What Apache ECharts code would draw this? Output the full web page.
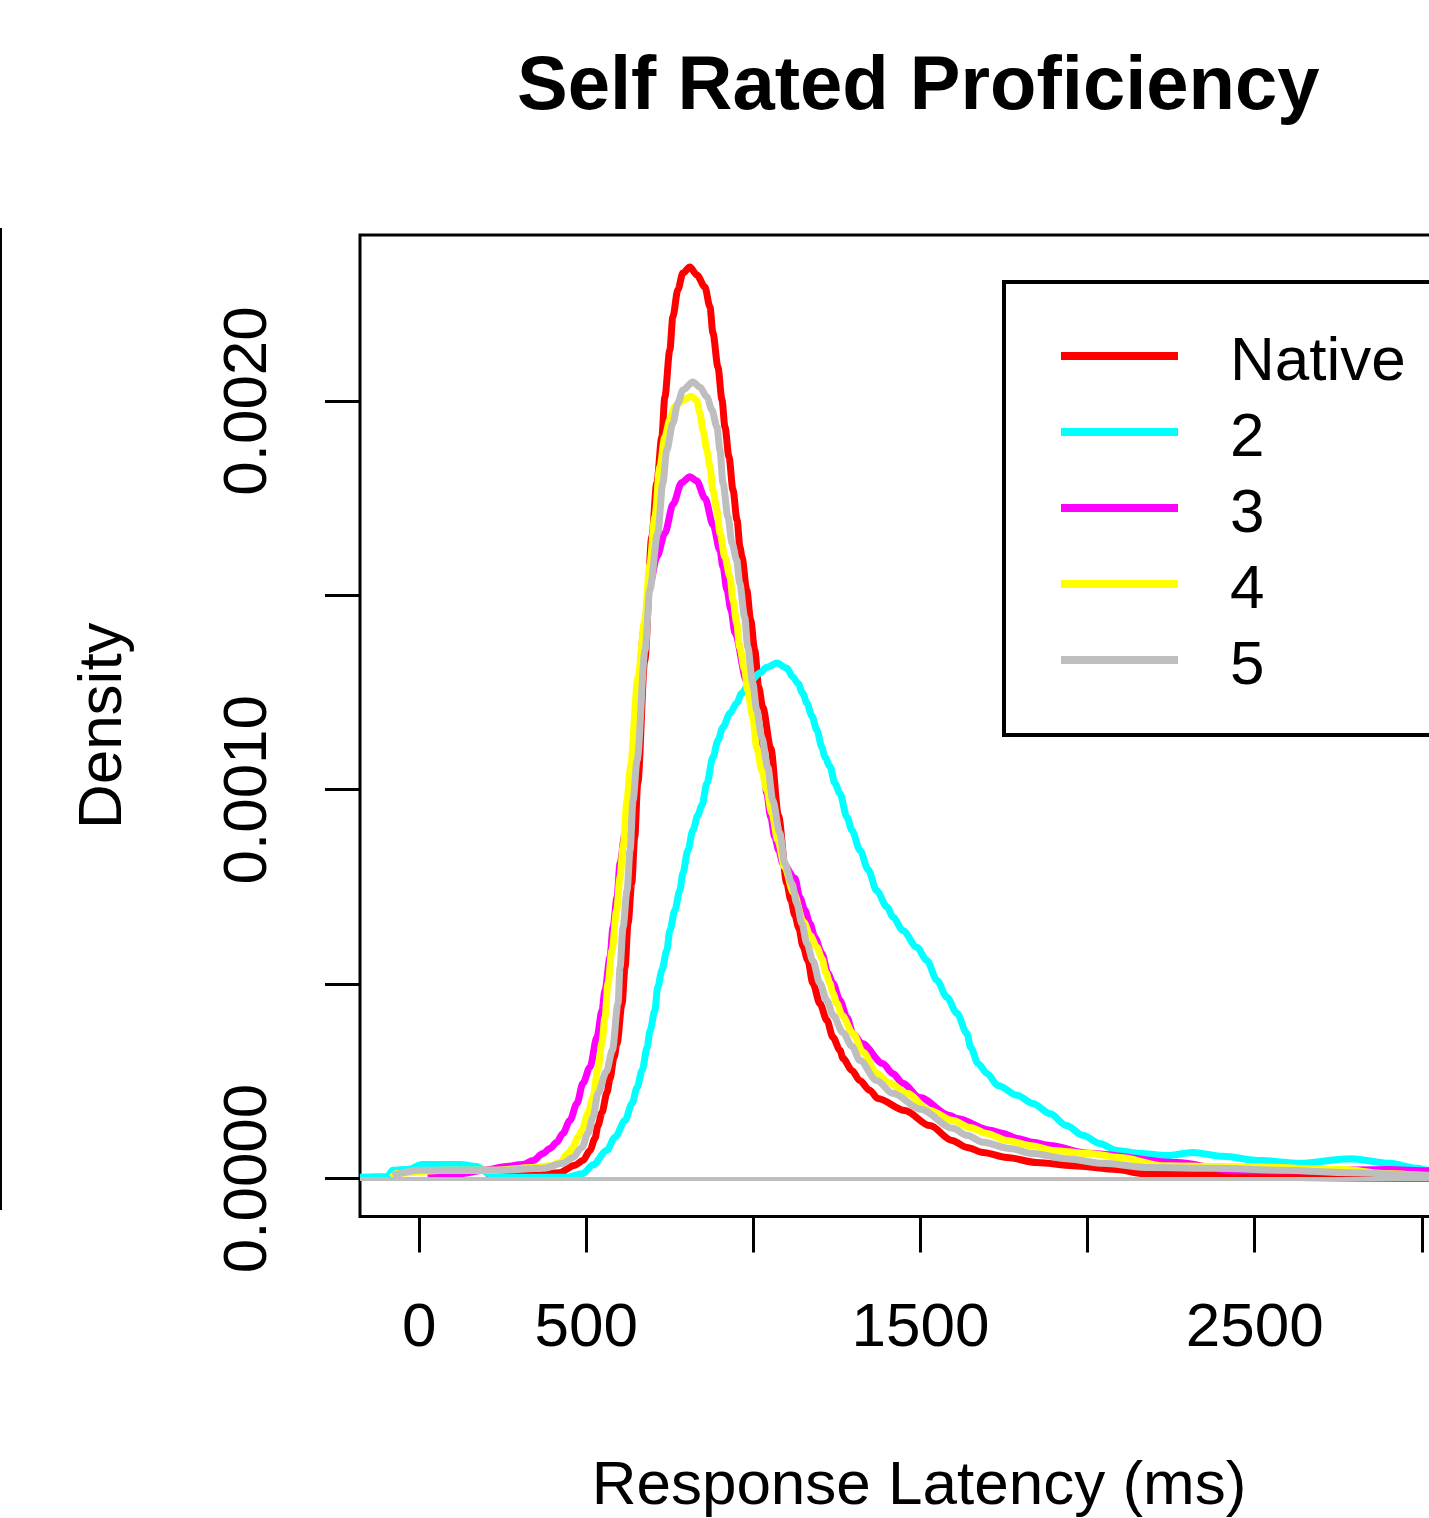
<!DOCTYPE html>
<html>
<head>
<meta charset="utf-8">
<title>Self Rated Proficiency</title>
<script src="https://cdn.jsdelivr.net/npm/echarts@6.0.0/dist/echarts.min.js"></script>
<style>
  html, body { margin: 0; padding: 0; background: #fff; }
  #density_chart { width: 1429px; height: 1518px; }
</style>
</head>
<body>
<div id="density_chart"></div>
<script>
// density curves: [latency in ms, density]
var nativeDens = [
  [200, 0.000003], [350, 0.000008], [420, 0.000015], [466, 0.000034], [490, 0.000046],
  [511, 0.000072], [526, 0.000103], [535, 0.000136], [547, 0.000170], [562, 0.000221],
  [571, 0.000257], [583, 0.000311], [592, 0.000347], [607, 0.000450], [616, 0.000543],
  [625, 0.000656], [636, 0.000759], [645, 0.000878], [654, 0.001017], [675, 0.001333],
  [696, 0.001650], [711, 0.001789], [726, 0.001907], [735, 0.002010], [750, 0.002131],
  [759, 0.002216], [774, 0.002286], [789, 0.002329], [810, 0.002345], [831, 0.002324],
  [855, 0.002293], [870, 0.002242], [879, 0.002175], [894, 0.002087], [906, 0.002003],
  [915, 0.001933], [927, 0.001856], [939, 0.001771], [951, 0.001694], [960, 0.001624],
  [966, 0.001598], [980, 0.001514], [992, 0.001436], [1004, 0.001359], [1016, 0.001264],
  [1028, 0.001212], [1052, 0.001107], [1075, 0.000934], [1100, 0.000759], [1112, 0.000716],
  [1124, 0.000677], [1136, 0.000644], [1148, 0.000598], [1163, 0.000561], [1178, 0.000502],
  [1199, 0.000450], [1220, 0.000407], [1238, 0.000363], [1259, 0.000330], [1268, 0.000309],
  [1295, 0.000278], [1318, 0.000252], [1348, 0.000227], [1372, 0.000206], [1453, 0.000175],
  [1528, 0.000136], [1594, 0.000098], [1639, 0.000080], [1687, 0.000067], [1758, 0.000054],
  [1848, 0.000041], [1956, 0.000033], [2087, 0.000023], [2165, 0.000013], [2267, 0.000010],
  [2387, 0.000010], [2465, 0.000004], [2800, 0.000001], [3100, 0]
];
var dens2 = [
  [-177, 0.000003], [-95, 0.000005], [-79, 0.000021], [-30, 0.000024], [8, 0.000036],
  [122, 0.000036], [172, 0.000031], [210, 0.000012], [241, 0.000003], [442, 0.000003],
  [490, 0.000013], [520, 0.000035], [561, 0.000072], [586, 0.000106], [616, 0.000149],
  [637, 0.000193], [652, 0.000234], [667, 0.000278], [682, 0.000337], [691, 0.000381],
  [705, 0.000432], [714, 0.000492], [726, 0.000535], [741, 0.000587], [750, 0.000638],
  [765, 0.000690], [780, 0.000741], [789, 0.000785], [804, 0.000844], [819, 0.000896],
  [834, 0.000935], [846, 0.000960], [861, 0.001017], [879, 0.001084], [894, 0.001127],
  [909, 0.001161], [930, 0.001197], [950, 0.001223], [965, 0.001248], [990, 0.001278],
  [1019, 0.001300], [1040, 0.001315], [1070, 0.001326], [1100, 0.001313], [1118, 0.001290],
  [1133, 0.001274], [1148, 0.001248], [1160, 0.001223], [1175, 0.001190], [1190, 0.001153],
  [1205, 0.001109], [1214, 0.001084], [1229, 0.001060], [1244, 0.001017], [1259, 0.000990],
  [1280, 0.000929], [1295, 0.000895], [1319, 0.000844], [1343, 0.000795], [1369, 0.000740],
  [1400, 0.000698], [1418, 0.000672], [1447, 0.000638], [1489, 0.000595], [1519, 0.000561],
  [1549, 0.000510], [1579, 0.000466], [1609, 0.000425], [1639, 0.000373], [1650, 0.000337],
  [1672, 0.000296], [1699, 0.000270], [1732, 0.000239], [1789, 0.000214], [1836, 0.000193],
  [1887, 0.000167], [1937, 0.000136], [1986, 0.000111], [2036, 0.000090], [2087, 0.000072],
  [2156, 0.000064], [2237, 0.000059], [2315, 0.000067], [2405, 0.000057], [2515, 0.000046],
  [2635, 0.000039], [2785, 0.000051], [2905, 0.000039], [2986, 0.000026], [3022, 0.000021],
  [3100, 0.000010]
];
var dens3 = [
  [26, 0.000002], [120, 0.000012], [200, 0.000022], [260, 0.000031], [310, 0.000036],
  [341, 0.000046], [370, 0.000064], [391, 0.000077], [412, 0.000093], [430, 0.000116],
  [451, 0.000149], [472, 0.000193], [490, 0.000245], [511, 0.000286], [532, 0.000363],
  [547, 0.000432], [556, 0.000484], [571, 0.000569], [580, 0.000646], [592, 0.000723],
  [601, 0.000811], [616, 0.000888], [625, 0.000973], [637, 0.001068], [655, 0.001250],
  [672, 0.001410], [690, 0.001530], [712, 0.001600], [735, 0.001660], [760, 0.001735],
  [785, 0.001790], [810, 0.001805], [830, 0.001795], [855, 0.001750], [880, 0.001680],
  [900, 0.001615], [909, 0.001573], [921, 0.001514], [933, 0.001462], [945, 0.001403],
  [980, 0.001280], [1014, 0.001153], [1028, 0.001097], [1040, 0.000990], [1052, 0.000929],
  [1064, 0.000878], [1076, 0.000844], [1088, 0.000811], [1124, 0.000772], [1139, 0.000723],
  [1154, 0.000690], [1169, 0.000656], [1184, 0.000620], [1205, 0.000579], [1223, 0.000528],
  [1238, 0.000502], [1259, 0.000458], [1280, 0.000414], [1298, 0.000373], [1325, 0.000347],
  [1387, 0.000296], [1417, 0.000270], [1447, 0.000245], [1498, 0.000208], [1588, 0.000162],
  [1609, 0.000154], [1708, 0.000124], [1747, 0.000116], [1789, 0.000103], [1836, 0.000093],
  [1887, 0.000085], [2000, 0.000065], [2267, 0.000041], [2435, 0.000020], [2700, 0.000020],
  [2896, 0.000023], [3020, 0.000020], [3150, 0.000010]
];
var dens4 = [
  [-82, 0.000003], [-67, 0.000013], [71, 0.000021], [221, 0.000021], [341, 0.000028],
  [391, 0.000033], [421, 0.000041], [445, 0.000064], [460, 0.000080], [475, 0.000106],
  [487, 0.000124], [505, 0.000167], [520, 0.000208], [535, 0.000283], [547, 0.000350],
  [556, 0.000414], [565, 0.000502], [577, 0.000587], [591, 0.000690], [601, 0.000775],
  [610, 0.000852], [622, 0.000973], [631, 0.001050], [655, 0.001290], [675, 0.001436],
  [690, 0.001578], [705, 0.001701], [720, 0.001830], [735, 0.001907], [750, 0.001952],
  [765, 0.001985], [789, 0.002002], [815, 0.002012], [830, 0.002002], [840, 0.001969],
  [849, 0.001925], [861, 0.001874], [870, 0.001830], [879, 0.001771], [891, 0.001719],
  [900, 0.001660], [915, 0.001598], [930, 0.001547], [939, 0.001488], [950, 0.001429],
  [959, 0.001367], [974, 0.001308], [983, 0.001256], [998, 0.001187], [1010, 0.001109],
  [1025, 0.001050], [1040, 0.000999], [1055, 0.000940], [1073, 0.000870], [1094, 0.000800],
  [1120, 0.000735], [1150, 0.000660], [1170, 0.000625], [1190, 0.000595], [1205, 0.000566],
  [1217, 0.000530], [1229, 0.000502], [1238, 0.000476], [1250, 0.000450], [1265, 0.000420],
  [1298, 0.000373], [1328, 0.000325], [1369, 0.000270], [1408, 0.000245], [1459, 0.000219],
  [1528, 0.000175], [1597, 0.000149], [1648, 0.000131], [1698, 0.000116], [1758, 0.000098],
  [1827, 0.000085], [1896, 0.000072], [2006, 0.000064], [2096, 0.000054], [2225, 0.000033],
  [2486, 0.000030], [2764, 0.000023], [2884, 0.000013], [3050, 0.000005]
];
var dens5 = [
  [-79, 0.000008], [2, 0.000021], [121, 0.000021], [241, 0.000021], [370, 0.000026],
  [430, 0.000039], [460, 0.000054], [487, 0.000080], [505, 0.000116], [520, 0.000157],
  [535, 0.000219], [560, 0.000275], [578, 0.000330], [595, 0.000450], [601, 0.000543],
  [610, 0.000646], [622, 0.000741], [631, 0.000844], [640, 0.000973], [652, 0.001076],
  [676, 0.001359], [690, 0.001514], [714, 0.001660], [729, 0.001789], [741, 0.001874],
  [759, 0.001943], [774, 0.001995], [789, 0.002028], [819, 0.002049], [840, 0.002036],
  [861, 0.002010], [876, 0.001977], [891, 0.001933], [900, 0.001874], [909, 0.001789],
  [924, 0.001701], [936, 0.001635], [950, 0.001591], [959, 0.001532], [974, 0.001444],
  [983, 0.001367], [998, 0.001274], [1010, 0.001205], [1025, 0.001135], [1043, 0.001058],
  [1058, 0.000973], [1079, 0.000888], [1094, 0.000811], [1115, 0.000759], [1130, 0.000708],
  [1145, 0.000656], [1160, 0.000605], [1178, 0.000560], [1199, 0.000502], [1220, 0.000458],
  [1238, 0.000420], [1268, 0.000375], [1295, 0.000340], [1318, 0.000304], [1369, 0.000252],
  [1417, 0.000219], [1500, 0.000178], [1597, 0.000129], [1639, 0.000111], [1687, 0.000093],
  [1767, 0.000077], [1836, 0.000064], [1937, 0.000051], [2045, 0.000039], [2186, 0.000028],
  [2386, 0.000026], [2584, 0.000021], [2785, 0.000015], [3020, 0.000008], [3150, 0.000004]
];
var groupNames = ["Native", "2", "3", "4", "5"];
var xTickValues = [0, 500, 1000, 1500, 2000, 2500, 3000];
var xLabelValues = [0, 500, 1500, 2500];
var yTickValues = [0, 0.0005, 0.001, 0.0015, 0.002];
var yLabelValues = [0, 0.001, 0.002];

var lineColors = ["#FF0000", "#00FFFF", "#FF00FF", "#FFFF00", "#BEBEBE"];
var fontName = "'Liberation Sans', Arial, sans-serif";

var densChart = echarts.init(document.getElementById("density_chart"));

var seriesList = [nativeDens, dens2, dens3, dens4, dens5].map(function (d, i) {
  return {
    name: groupNames[i],
    type: "line",
    data: d,
    showSymbol: false,
    smooth: 0.3,
    smoothMonotone: "x",
    silent: true,
    lineStyle: { width: 7, color: lineColors[i] },
    itemStyle: { color: lineColors[i] }
  };
});
// zero line of plot.density, drawn with the first curve
seriesList[0].markLine = {
  silent: true,
  symbol: "none",
  label: { show: false },
  lineStyle: { color: "#BEBEBE", width: 4, type: "solid" },
  data: [{ yAxis: 0 }]
};

let option = {
  animation: false,
  backgroundColor: "#fff",
  color: lineColors,
  title: {
    text: "Self Rated Proficiency",
    left: 517,
    top: 50,
    padding: 0,
    textStyle: { fontFamily: fontName, fontSize: 76, fontWeight: "bold", color: "#000" }
  },
  legend: {
    data: groupNames,
    orient: "vertical",
    left: 1004,
    top: 282,
    padding: [36, 150, 37, 57],
    itemGap: 0,
    itemWidth: 117,
    itemHeight: 8,
    icon: "rect",
    selectedMode: false,
    borderColor: "#000",
    borderWidth: 4,
    borderRadius: 0,
    formatter: function (name) {
      return "{n|" + name + "}";
    },
    textStyle: {
      color: "#000",
      rich: {
        n: {
          fontFamily: fontName,
          fontSize: 62,
          lineHeight: 62,
          color: "#000",
          padding: [14, 0, 0, 47]
        }
      }
    }
  },
  grid: {
    left: 360,
    top: 235,
    right: -49,
    bottom: 301.5,
    show: true,
    borderColor: "#000",
    borderWidth: 3,
    containLabel: false,
    outerBoundsMode: "none"
  },
  xAxis: {
    type: "value",
    min: -177,
    max: 3168,
    name: "Response Latency (ms)",
    nameLocation: "middle",
    nameGap: 239,
    nameTextStyle: { fontFamily: fontName, fontSize: 62, color: "#000" },
    axisLine: { show: false, onZero: false },
    axisTick: {
      show: true,
      inside: false,
      length: 36,
      customValues: xTickValues,
      lineStyle: { color: "#000", width: 3 }
    },
    axisLabel: {
      customValues: xLabelValues,
      margin: 81,
      fontFamily: fontName,
      fontSize: 62,
      color: "#000",
      formatter: function (v) { return String(v); }
    },
    splitLine: { show: false }
  },
  yAxis: {
    type: "value",
    min: -0.0000978,
    max: 0.002427,
    name: "Density",
    nameLocation: "middle",
    nameGap: 225,
    nameTextStyle: { fontFamily: fontName, fontSize: 62, color: "#000" },
    axisLine: { show: false, onZero: false },
    axisTick: {
      show: true,
      inside: false,
      length: 35,
      customValues: yTickValues,
      lineStyle: { color: "#000", width: 3 }
    },
    axisLabel: {
      customValues: yLabelValues,
      rotate: 90,
      margin: 80,
      fontFamily: fontName,
      fontSize: 62,
      color: "#000",
      formatter: function (v) { return v.toFixed(4); }
    },
    splitLine: { show: false }
  },
  graphic: [
    {
      // edge of the neighbouring panel in the source figure
      type: "line",
      silent: true,
      shape: { x1: 1, y1: 228, x2: 1, y2: 1210 },
      style: { stroke: "#000", lineWidth: 2 }
    }
  ],
  series: seriesList
};
densChart.setOption(option);
</script>
</body>
</html>
